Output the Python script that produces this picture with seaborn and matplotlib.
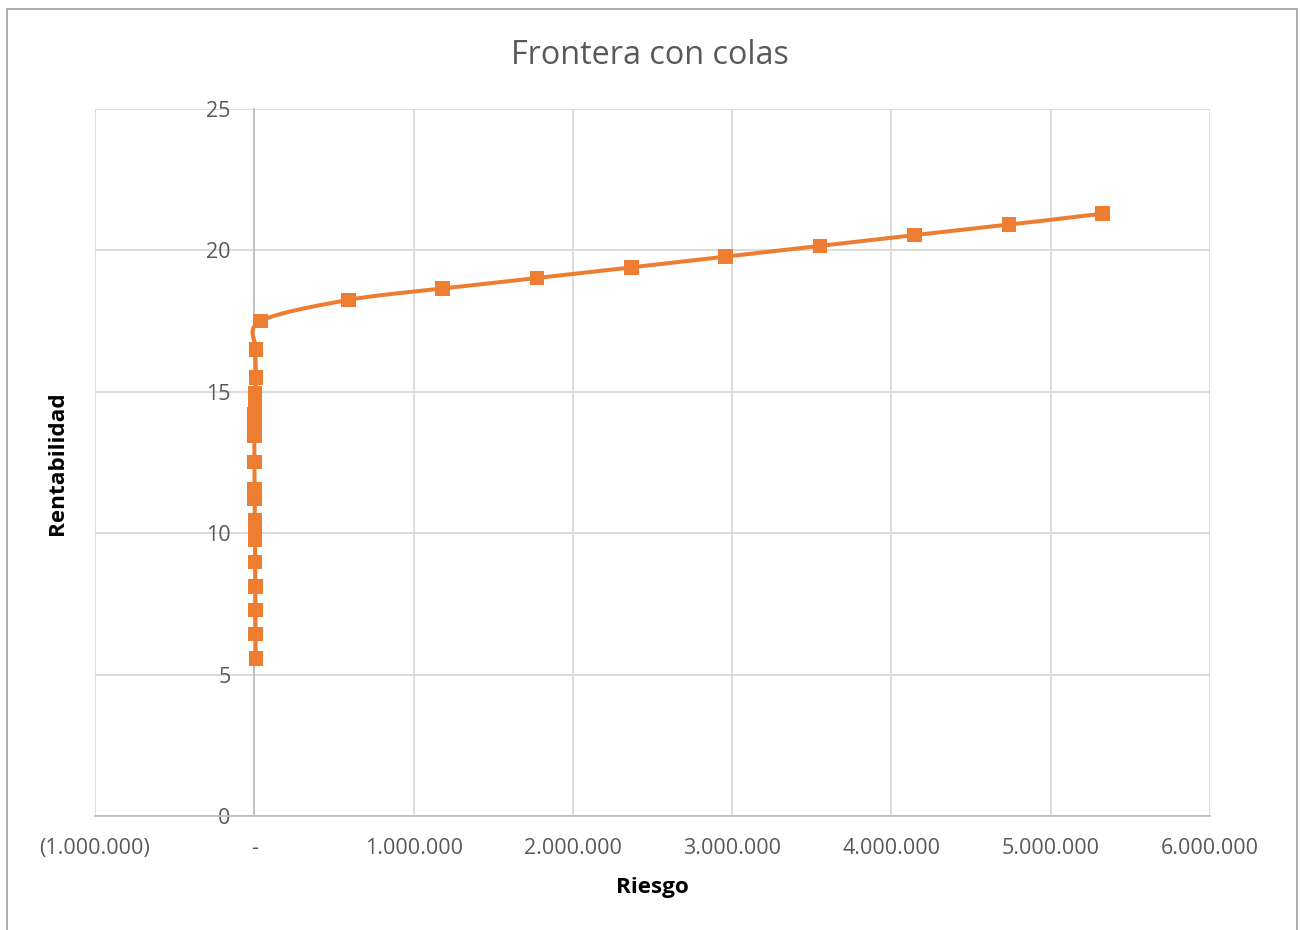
import numpy as np
import pandas as pd
import matplotlib
matplotlib.use("Agg")
import matplotlib.pyplot as plt
from matplotlib.ticker import FuncFormatter, MultipleLocator
from matplotlib.patches import Rectangle
import seaborn as sns

# Efficient frontier points: risk (x) and return (y)
riesgo = [9000, 8500, 8000, 7000, 6000, 4500, 4000, 3500, 2500, 2000, 1000,
          0, 500, 1000, 2000, 3000, 4000, 5000, 11000, 9000, 40000,
          592000, 1182000, 1774000, 2367000, 2959000, 3552000, 4144000,
          4737000, 5326000]
rentabilidad = [5.57, 6.44, 7.28, 8.12, 8.98, 9.78, 10.12, 10.47, 11.2, 11.55,
                12.52, 13.45, 13.7, 13.95, 14.2, 14.45, 14.7, 14.95, 15.5, 16.5,
                17.5, 18.25, 18.65, 19.02, 19.4, 19.78, 20.16, 20.54, 20.91,
                21.3]

titulo = "Frontera con colas"
etiqueta_x = "Riesgo"
etiqueta_y = "Rentabilidad"

NARANJA = "#ED7D31"
GRIS_TEXTO = "#595959"
GRIS_REJILLA = "#D9D9D9"
GRIS_EJE = "#BFBFBF"


def catmull_rom(x, y, pasos=24):
    """Smooth curve through the points (uniform Catmull-Rom, Excel-like)."""
    p = np.column_stack([x, y]).astype(float)
    p = np.vstack([p[0], p, p[-1]])
    out = []
    t = np.linspace(0, 1, pasos, endpoint=False)[:, None]
    for i in range(1, len(p) - 2):
        p0, p1, p2, p3 = p[i - 1], p[i], p[i + 1], p[i + 2]
        c1 = p1 + (p2 - p0) / 6.0
        c2 = p2 - (p3 - p1) / 6.0
        seg = ((1 - t) ** 3) * p1 + 3 * ((1 - t) ** 2) * t * c1 \
            + 3 * (1 - t) * t ** 2 * c2 + t ** 3 * p2
        out.append(seg)
    out.append(p[-2][None, :])
    out = np.vstack(out)
    return out[:, 0], out[:, 1]


sns.set_style("white")
plt.rcParams["font.family"] = ["Open Sans", "DejaVu Sans"]

fig = plt.figure(figsize=(13, 9.3), dpi=100)
ax = fig.add_axes([95 / 1300, 1 - 816 / 930, (1210 - 95) / 1300, (816 - 109) / 930])

df = pd.DataFrame({"riesgo": riesgo, "rentabilidad": rentabilidad})
cx, cy = catmull_rom(df["riesgo"].values, df["rentabilidad"].values)
curva = pd.DataFrame({"riesgo": cx, "rentabilidad": cy})

sns.lineplot(data=curva, x="riesgo", y="rentabilidad", sort=False,
             estimator=None, color=NARANJA, lw=2.9, ax=ax, zorder=3)
sns.scatterplot(data=df, x="riesgo", y="rentabilidad", marker="s", s=108,
                color=NARANJA, edgecolor="none", linewidth=0, ax=ax, zorder=4)

ax.set_xlim(-1_000_000, 6_000_000)
ax.set_ylim(0, 25)
ax.xaxis.set_major_locator(MultipleLocator(1_000_000))
ax.yaxis.set_major_locator(MultipleLocator(5))


def formato_miles(v, pos):
    if abs(v) < 0.5:
        return "-"
    s = f"{abs(v):,.0f}".replace(",", ".")
    return f"({s})" if v < 0 else s


ax.xaxis.set_major_formatter(FuncFormatter(formato_miles))
ax.grid(True, color=GRIS_REJILLA, lw=1.3, zorder=0)
ax.set_axisbelow(True)

for lado in ("top", "right"):
    ax.spines[lado].set_visible(False)
ax.spines["left"].set_position(("data", 0))
ax.spines["left"].set_color(GRIS_EJE)
ax.spines["left"].set_linewidth(1.3)
ax.spines["bottom"].set_color(GRIS_EJE)
ax.spines["bottom"].set_linewidth(1.3)

ax.tick_params(axis="both", length=0, labelsize=15.5, labelcolor=GRIS_TEXTO)
ax.tick_params(axis="y", pad=17)
ax.tick_params(axis="x", pad=16)

ax.set_xlabel(etiqueta_x, fontsize=16.2, fontweight="bold", color="black",
              labelpad=13)
ax.set_ylabel("")
fig.text(58 / 1300, 1 - 463 / 930, etiqueta_y, rotation=90, fontsize=16.2,
         fontweight="bold", color="black", ha="center", va="center")

fig.text(650 / 1300, 1 - 56 / 930, titulo, fontsize=23.3, color=GRIS_TEXTO,
         ha="center", va="center")

fig.patches.append(Rectangle((6.5 / 1300, -0.02), (1297 - 6.5) / 1300,
                             1.02 - 9.5 / 930, transform=fig.transFigure,
                             fill=False, edgecolor="#A6A6A6", lw=1.3))

fig.savefig("out.png", dpi=100, facecolor="white")
